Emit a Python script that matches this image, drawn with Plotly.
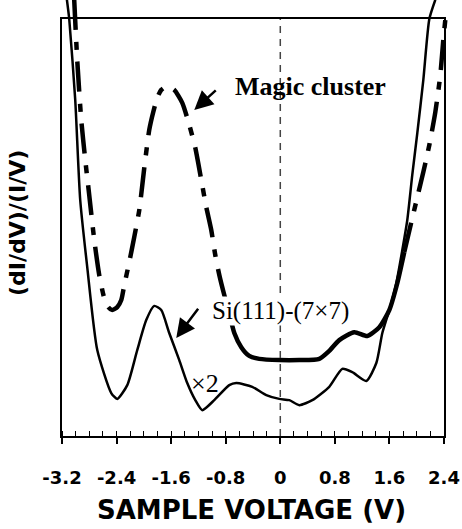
import plotly.graph_objects as go

# ---------------- data ----------------
# Si(111)-(7x7) spectrum (x2), thin solid line
si_v = [-3.128, -3.094, -3.006, -2.933, -2.830, -2.683, -2.478, -2.390, -2.243, -2.097,
        -1.965, -1.848, -1.745, -1.628, -1.481, -1.364, -1.246, -1.144, -0.968, -0.748,
        -0.645, -0.411, -0.205, -0.015, 0.132, 0.279, 0.469, 0.718, 0.909, 1.056,
        1.261, 1.408, 1.496, 1.598, 1.701, 1.789, 1.862, 1.935, 2.009, 2.097, 2.185, 2.273]
si_y = [10.46, 10.0, 8.06, 5.66, 4.05, 2.06, 1.03, 0.89, 1.22, 2.06,
        2.78, 3.12, 3.02, 2.47, 1.82, 1.27, 0.86, 0.62, 0.86, 1.22,
        1.27, 1.18, 0.98, 0.89, 0.86, 0.74, 0.86, 1.18, 1.61, 1.53,
        1.32, 1.75, 2.47, 3.02, 3.67, 4.46, 5.18, 6.26, 7.27, 8.54, 10.0, 10.46]

# Magic cluster spectrum, thick dash-dot line
mc_v = [-3.021, -2.977, -2.918, -2.859, -2.801, -2.727, -2.654, -2.581, -2.522, -2.463,
        -2.390, -2.331, -2.287, -2.214, -2.141, -2.067, -1.994, -1.921, -1.862, -1.804,
        -1.745, -1.657, -1.554, -1.437, -1.334, -1.246, -1.158, -1.085, -1.012, -0.953,
        -0.894, -0.821, -0.748, -0.674, -0.572, -0.455, -0.308, -0.015, 0.279, 0.572,
        0.718, 0.865, 1.085, 1.276, 1.452, 1.598, 1.716, 1.818, 1.921, 2.009,
        2.097, 2.185, 2.273, 2.346, 2.390, 2.434]
mc_y = [10.46, 9.02, 7.58, 6.62, 5.78, 4.70, 3.86, 3.31, 3.09, 3.02,
        3.09, 3.26, 3.62, 4.17, 4.77, 5.42, 6.43, 7.34, 7.77, 8.11,
        8.30, 8.39, 8.30, 7.99, 7.46, 6.91, 6.14, 5.49, 4.94, 4.34,
        3.86, 3.38, 2.95, 2.47, 2.13, 1.92, 1.85, 1.82, 1.82, 1.85,
        2.04, 2.30, 2.49, 2.40, 2.61, 3.02, 3.67, 4.41, 5.13, 5.73,
        6.33, 6.98, 7.77, 8.66, 9.50, 10.22]
# part of the magic-cluster curve drawn as a continuous stroke (indices)
mc_solid_start = 32
mc_solid_end = 47

tick_vals = [-3.2, -2.4, -1.6, -0.8, 0, 0.8, 1.6, 2.4]
tick_text = ["-3.2", "-2.4", "-1.6", "-0.8", "0", "0.8", "1.6", "2.4"]

x_title = "SAMPLE VOLTAGE (V)"
y_title = "(dI/dV)/(I/V)"

# ---------------- layout geometry ----------------
W, H = 462, 529
BOX_L, BOX_R, BOX_T, BOX_B = 62, 444, 19, 436
X_MIN, X_MAX = -3.2, 2.4
Y_MIN, Y_MAX = 0.0, 10.0
sx = (BOX_R - BOX_L) / (X_MAX - X_MIN)
sy = (BOX_B - BOX_T) / (Y_MAX - Y_MIN)
x2_range = [X_MIN - BOX_L / sx, X_MAX + (W - BOX_R) / sx]
y2_range = [Y_MIN - (H - BOX_B) / sy, Y_MAX + BOX_T / sy]

fig = go.Figure()

SEG_DASH = "30px,12px,8px,12px"
LINE_MC = dict(color="black", width=4.5, shape="spline", smoothing=0.6)
fig.add_trace(go.Scatter(x=mc_v[:mc_solid_start + 1], y=mc_y[:mc_solid_start + 1],
                         xaxis="x2", yaxis="y2", mode="lines",
                         line=dict(LINE_MC, dash=SEG_DASH)))
fig.add_trace(go.Scatter(x=mc_v[mc_solid_start:mc_solid_end + 1], y=mc_y[mc_solid_start:mc_solid_end + 1],
                         xaxis="x2", yaxis="y2", mode="lines", line=LINE_MC))
fig.add_trace(go.Scatter(x=mc_v[mc_solid_end:], y=mc_y[mc_solid_end:],
                         xaxis="x2", yaxis="y2", mode="lines",
                         line=dict(LINE_MC, dash=SEG_DASH)))
fig.add_trace(go.Scatter(x=si_v, y=si_y, xaxis="x2", yaxis="y2", mode="lines",
                         line=dict(color="black", width=2.5, shape="spline", smoothing=0.6)))

tickfont = dict(family="DejaVu Sans", size=18, color="black", weight="bold")

fig.update_layout(
    template="none",
    width=W, height=H,
    margin=dict(l=0, r=0, t=0, b=0, autoexpand=False),
    paper_bgcolor="white", plot_bgcolor="rgba(0,0,0,0)",
    showlegend=False,
    xaxis=dict(domain=[BOX_L / W, BOX_R / W], range=[X_MIN, X_MAX], anchor="y",
               automargin=False,
               showline=True, linecolor="black", linewidth=2, mirror=True,
               ticks="outside", ticklen=6, tickwidth=1.5, tickcolor="black",
               tickvals=tick_vals, ticktext=tick_text, tickfont=tickfont,
               ticklabelstandoff=18,
               minor=dict(ticks="inside", tick0=-3.2, dtick=0.2, ticklen=5, tickwidth=1.2,
                          tickcolor="black", showgrid=False),
               showgrid=False, zeroline=False, fixedrange=True),
    yaxis=dict(domain=[(H - BOX_B) / H, (H - BOX_T) / H], range=[Y_MIN, Y_MAX], anchor="x",
               automargin=False,
               showline=True, linecolor="black", linewidth=2, mirror=True,
               ticks="", showticklabels=False, showgrid=False, zeroline=False, fixedrange=True),
    xaxis2=dict(domain=[0, 1], range=x2_range, anchor="y2", visible=False, fixedrange=True,
                automargin=False),
    yaxis2=dict(domain=[0, 1], range=y2_range, anchor="x2", visible=False, fixedrange=True,
                automargin=False),
)

# dashed zero-bias line
fig.add_shape(type="line", xref="x", yref="y", x0=0, x1=0, y0=Y_MIN, y1=Y_MAX,
              line=dict(color="#444444", width=1.5, dash="7px,6px"), layer="above")

serif = "Liberation Serif"
fig.add_annotation(xref="x2", yref="y2", x=0.44, y=8.39, text="<b>Magic cluster</b>",
                   showarrow=False, font=dict(family=serif, size=26, color="black"))
fig.add_annotation(xref="x2", yref="y2", x=0.007, y=3.0, text="Si(111)-(7×7)",
                   showarrow=False, bgcolor="white", borderpad=0,
                   font=dict(family=serif, size=25, color="black"))
fig.add_annotation(xref="x2", yref="y2", x=-1.10, y=1.25, text="×2",
                   showarrow=False, font=dict(family=serif, size=26, color="black"))

# arrows
fig.add_annotation(xref="x2", yref="y2", axref="x2", ayref="y2",
                   x=-1.261, y=7.82, ax=-0.924, ay=8.32, text="",
                   showarrow=True, arrowhead=2, arrowsize=1.5, arrowwidth=2.5, arrowcolor="black")
fig.add_annotation(xref="x2", yref="y2", axref="x2", ayref="y2",
                   x=-1.525, y=2.35, ax=-1.188, ay=3.09, text="",
                   showarrow=True, arrowhead=2, arrowsize=1.5, arrowwidth=2.5, arrowcolor="black")

# axis titles
fig.add_annotation(xref="paper", yref="paper", x=251 / W, y=(H - 510) / H, text=x_title,
                   showarrow=False, xanchor="center", yanchor="middle",
                   font=dict(family="DejaVu Sans", size=26, color="black", weight="bold"))
fig.add_annotation(xref="paper", yref="paper", x=17 / W, y=(H - 223) / H, text=y_title,
                   textangle=-90, showarrow=False, xanchor="center", yanchor="middle",
                   font=dict(family="DejaVu Sans", size=22, color="black", weight="bold"))

fig.write_html("out.html")
